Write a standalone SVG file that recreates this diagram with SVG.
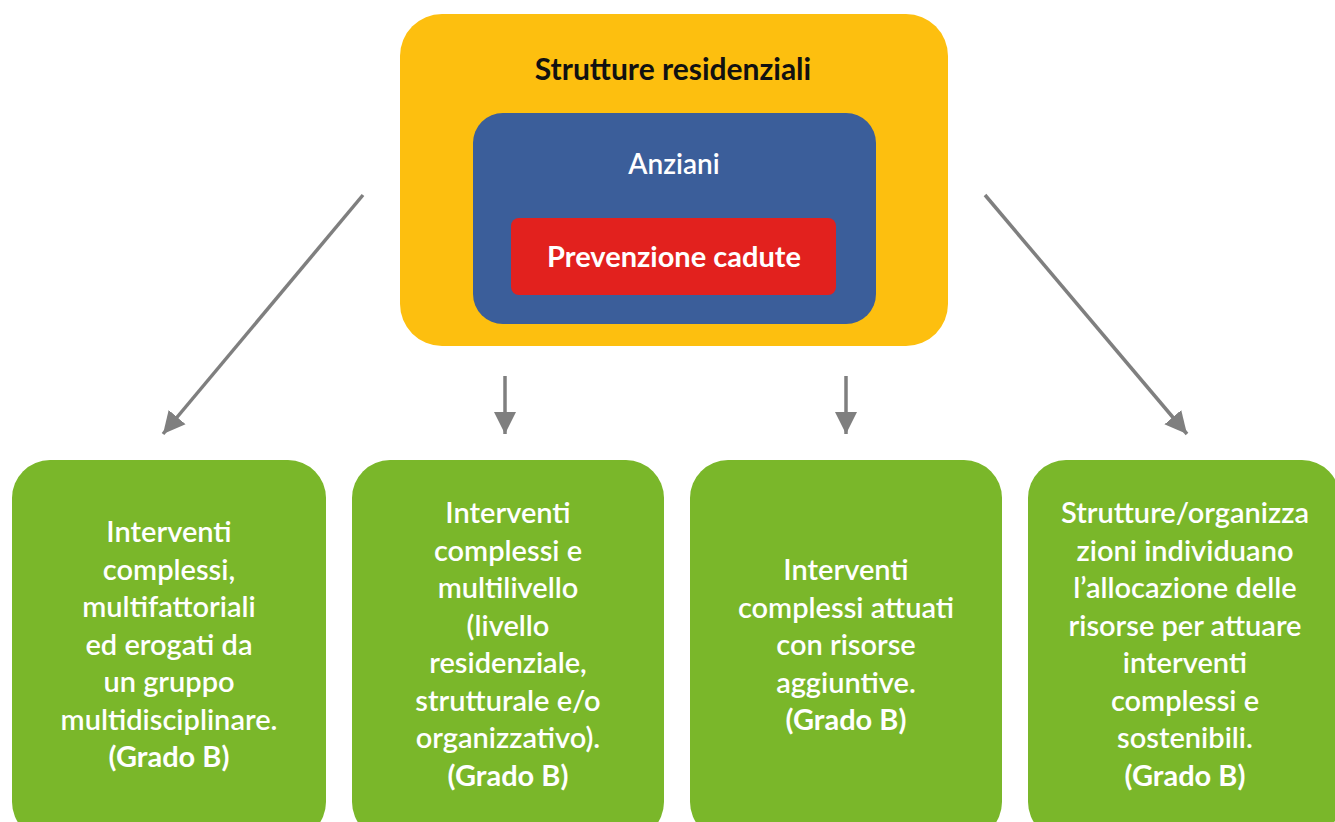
<svg xmlns="http://www.w3.org/2000/svg" width="1335" height="822" viewBox="0 0 1335 822">
<style>
.bg{fill:#ffffff}
.green{fill:#7AB72A}
.gt{font-family:Lato,"Liberation Sans",sans-serif;font-size:29px;fill:#ffffff;text-anchor:middle;font-weight:600}
.gb{font-weight:700}
.conn{stroke:#7F7F7F;stroke-width:3.5;fill:none;marker-end:url(#ah)}
</style>
<defs>
<marker id="ah" markerUnits="userSpaceOnUse" markerWidth="24" markerHeight="24" viewBox="0 0 24 24" refX="22" refY="12" orient="auto">
<path d="M0,1 L22,12 L0,23 Z" fill="#7F7F7F"/>
</marker>
</defs>
<rect class="bg" x="0" y="0" width="1335" height="822"/>
<g id="strutture">
<rect x="400" y="14" width="548" height="332" rx="42" fill="#FDBF0F"/>
<text x="673" y="80" font-family="Lato,'Liberation Sans',sans-serif" font-size="30" font-weight="700" fill="#111111" text-anchor="middle">Strutture residenziali</text>
</g>
<g id="anziani">
<rect x="473" y="113" width="403" height="211" rx="30" fill="#3B5E9A"/>
<text x="674" y="174" font-family="Lato,'Liberation Sans',sans-serif" font-size="28" font-weight="600" fill="#ffffff" text-anchor="middle">Anziani</text>
</g>
<g id="prevenzione">
<rect x="511" y="218" width="325" height="77" rx="8" fill="#E2211E"/>
<text x="674" y="267" font-family="Lato,'Liberation Sans',sans-serif" font-size="29" font-weight="700" fill="#ffffff" text-anchor="middle">Prevenzione cadute</text>
</g>
<g id="connectors">
<line class="conn" x1="363" y1="195" x2="163" y2="434"/>
<line class="conn" x1="505" y1="376" x2="505" y2="434"/>
<line class="conn" x1="846" y1="376" x2="846" y2="434"/>
<line class="conn" x1="985" y1="195" x2="1187" y2="434"/>
</g>
<g id="box1">
<rect class="green" x="12" y="460" width="314" height="380" rx="38"/>
<text class="gt" x="169" y="542">Interventi</text>
<text class="gt" x="169" y="579.5">complessi,</text>
<text class="gt" x="169" y="617">multifattoriali</text>
<text class="gt" x="169" y="654.5">ed erogati da</text>
<text class="gt" x="169" y="692">un gruppo</text>
<text class="gt" x="169" y="729.5">multidisciplinare.</text>
<text class="gt gb" x="169" y="767">(Grado B)</text>
</g>
<g id="box2">
<rect class="green" x="352" y="460" width="312" height="380" rx="38"/>
<text class="gt" x="508" y="523">Interventi</text>
<text class="gt" x="508" y="560.5">complessi e</text>
<text class="gt" x="508" y="598">multilivello</text>
<text class="gt" x="508" y="635.5">(livello</text>
<text class="gt" x="508" y="673">residenziale,</text>
<text class="gt" x="508" y="710.5">strutturale e/o</text>
<text class="gt" x="508" y="748">organizzativo).</text>
<text class="gt gb" x="508" y="786">(Grado B)</text>
</g>
<g id="box3">
<rect class="green" x="690" y="460" width="312" height="380" rx="38"/>
<text class="gt" x="846" y="580">Interventi</text>
<text class="gt" x="846" y="617.5">complessi attuati</text>
<text class="gt" x="846" y="655">con risorse</text>
<text class="gt" x="846" y="692.5">aggiuntive.</text>
<text class="gt gb" x="846" y="730">(Grado B)</text>
</g>
<g id="box4">
<rect class="green" x="1028" y="460" width="312" height="380" rx="38"/>
<text class="gt" x="1185" y="523">Strutture/organizza</text>
<text class="gt" x="1185" y="560.5">zioni individuano</text>
<text class="gt" x="1185" y="598">l’allocazione delle</text>
<text class="gt" x="1185" y="635.5">risorse per attuare</text>
<text class="gt" x="1185" y="673">interventi</text>
<text class="gt" x="1185" y="710.5">complessi e</text>
<text class="gt" x="1185" y="748">sostenibili.</text>
<text class="gt gb" x="1185" y="786">(Grado B)</text>
</g>
</svg>
